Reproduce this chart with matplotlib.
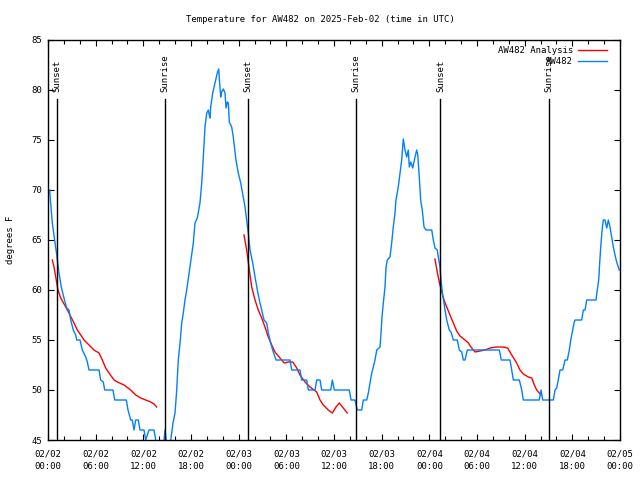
import numpy as np
import matplotlib
matplotlib.use("Agg")
import matplotlib.pyplot as plt

# hours since 2025-02-02 00:00 UTC
obs_hours = [0.0, 0.2, 0.54, 0.97, 1.10, 1.38, 1.67, 2.01, 2.35, 2.64, 2.86, 3.18, 3.49, 3.61,
             4.03, 4.32, 4.75, 4.95, 5.16, 6.42, 6.63, 6.96, 7.14, 8.18, 8.40, 9.86, 10.07,
             10.41, 10.61, 10.83, 11.04, 11.37, 11.58, 12.08, 12.30, 12.71, 13.34, 13.56, 13.85,
             14.48, 14.73, 14.94, 15.36, 15.57, 15.73, 15.99, 16.20, 16.40, 16.62, 16.83, 17.03,
             17.24, 17.46, 17.87, 18.29, 18.50, 18.79, 19.13, 19.35, 19.55, 19.76, 19.98, 20.18,
             20.30, 20.39, 20.48, 20.73, 21.02, 21.31, 21.49, 21.56, 21.74, 21.86, 22.07, 22.28,
             22.41, 22.57, 22.70, 22.82, 23.12, 23.32, 23.66, 23.95, 24.26, 24.58, 24.80, 25.01,
             25.21, 25.43, 25.77, 26.06, 26.35, 26.60, 26.90, 27.19, 27.53, 27.73, 28.03, 28.28,
             28.70, 30.46, 30.68, 31.72, 31.93, 32.56, 32.77, 33.61, 33.82, 34.24, 34.45, 35.59,
             35.79, 36.04, 37.93, 38.14, 38.64, 38.93, 39.49, 39.69, 40.12, 40.32, 40.53, 40.75,
             40.95, 41.16, 41.38, 41.79, 41.92, 42.04, 42.21, 42.42, 42.55, 42.71, 43.05, 43.26,
             43.46, 43.68, 43.80, 44.09, 44.31, 44.52, 44.65, 44.72, 44.94, 45.15, 45.35, 45.48,
             45.66, 45.91, 46.07, 46.20, 46.41, 46.54, 46.70, 46.91, 47.11, 47.33, 47.58, 48.30,
             48.50, 48.71, 49.00, 49.13, 49.34, 49.47, 49.68, 49.85, 49.97, 50.19, 50.51, 50.73,
             51.02, 51.52, 51.77, 52.07, 52.28, 52.49, 52.78, 56.81, 57.06, 58.15, 58.37, 58.57,
             59.33, 59.63, 59.83, 61.84, 62.06, 62.27, 63.61, 63.82, 64.03, 64.23, 64.45, 64.79,
             65.08, 65.37, 65.62, 65.80, 66.05, 66.21, 66.34, 67.18, 67.38, 67.60, 67.81, 68.98,
             69.14, 69.32, 69.48, 69.61, 69.77, 69.90, 70.11, 70.33, 70.53, 70.74, 70.95, 71.16,
             71.37, 71.58, 71.79, 71.91]
obs_temps = [70.0, 70.0, 66.7, 64.3, 63.5, 61.7, 60.3, 59.2, 58.2, 58.0, 57.0, 56.0, 55.5, 55.0,
             55.0, 54.0, 53.3, 52.8, 52.0, 52.0, 51.0, 50.8, 50.0, 50.0, 49.0, 49.0, 48.0,
             47.0, 47.0, 46.0, 47.0, 47.0, 46.0, 46.0, 45.0, 46.0, 46.0, 45.0, 44.0,
             44.0, 46.0, 44.5, 44.5, 45.7, 46.7, 47.7, 50.0, 53.0, 54.7, 56.7, 57.7,
             59.0, 60.0, 62.3, 64.7, 66.7, 67.2, 68.7, 70.7, 73.3, 76.3, 77.7, 78.0,
             77.5, 77.2, 78.3, 79.7, 80.7, 81.7, 82.1, 81.2, 79.3, 79.8, 80.1, 79.7,
             78.2, 78.8, 78.7, 76.8, 76.3, 75.3, 73.0, 71.7, 70.7, 69.3, 68.3, 67.0,
             65.7, 64.0, 62.7, 61.3, 60.0, 59.0, 58.0, 57.0, 56.7, 55.7, 54.7, 54.0,
             53.0, 53.0, 52.0, 52.0, 51.0, 51.0, 50.0, 50.0, 51.0, 51.0, 50.0, 50.0,
             51.0, 50.0, 50.0, 49.0, 49.0, 48.0, 48.0, 49.0, 49.0, 49.7, 50.7, 51.7,
             52.3, 53.0, 54.0, 54.3, 55.7, 57.3, 58.7, 60.3, 62.3, 63.0, 63.3, 64.7,
             66.3, 67.7, 69.0, 70.3, 71.7, 73.0, 74.3, 75.1, 74.0, 73.3, 74.0, 72.3,
             72.8, 72.2, 72.8, 73.3, 74.0, 73.5, 71.7, 69.0, 68.0, 66.3, 66.0, 66.0,
             65.0, 64.2, 64.0, 63.3, 62.3, 61.0, 59.5, 58.7, 58.0, 57.0, 56.0, 55.8,
             55.0, 55.0, 54.0, 53.8, 53.0, 53.0, 54.0, 54.0, 53.0, 53.0, 52.0, 51.0,
             51.0, 50.0, 49.0, 49.0, 50.0, 49.0, 49.0, 50.0, 50.2, 51.0, 52.0, 52.0,
             53.0, 53.0, 54.0, 55.0, 56.0, 56.7, 57.0, 57.0, 58.0, 58.0, 59.0, 59.0,
             60.0, 61.0, 63.2, 64.7, 66.2, 67.0, 67.0, 66.2, 67.0, 66.3, 65.3, 64.3,
             63.5, 62.8, 62.3, 62.0]

# analysis, one run per night
ana1_hours = [0.54, 0.76, 0.97, 1.26, 1.60, 2.23, 2.64, 3.27, 3.69, 4.12, 4.53, 5.16, 5.79, 6.42,
              6.84, 7.26, 7.68, 8.31, 8.72, 9.57, 10.41, 11.04, 11.67, 12.30, 12.93, 13.34, 13.68]
ana1_temps = [63.0, 62.3, 61.3, 60.0, 59.2, 58.3, 57.7, 56.7, 56.0, 55.5, 55.0, 54.5, 54.0, 53.7,
              53.0, 52.2, 51.7, 51.0, 50.8, 50.5, 50.0, 49.5, 49.2, 49.0, 48.8, 48.6, 48.3]
ana2_hours = [24.67, 25.01, 25.34, 25.64, 26.06, 26.47, 26.90, 27.31, 27.73, 28.16, 28.57, 29.20,
              29.74, 30.25, 30.80, 31.31, 31.72, 32.35, 32.98, 33.82, 34.24, 34.65, 35.28, 35.79,
              36.25, 36.67, 37.17, 37.67]
ana2_temps = [65.5, 64.0, 62.0, 60.3, 59.0, 58.0, 57.2, 56.3, 55.3, 54.5, 53.8, 53.2,
              52.7, 52.8, 52.8, 52.2, 51.5, 50.8, 50.3, 49.8, 49.0, 48.5, 48.0, 47.7,
              48.3, 48.7, 48.2, 47.7]
ana3_hours = [48.71, 49.00, 49.25, 49.56, 49.85, 50.19, 50.60, 51.02, 51.44, 51.86, 52.49, 52.91,
              53.33, 53.75, 54.38, 55.01, 55.64, 56.48, 57.31, 57.86, 58.37, 59.00, 59.41, 59.83,
              60.46, 60.89, 61.22, 61.51, 61.84, 62.06]
ana3_temps = [63.1, 61.8, 60.8, 59.8, 59.0, 58.3, 57.5, 56.7, 55.9, 55.4, 55.0, 54.7,
              54.2, 53.8, 53.9, 54.0, 54.2, 54.3, 54.3, 54.2, 53.5, 52.7, 52.0, 51.6,
              51.3, 51.2, 50.5, 50.0, 49.7, 49.5]

sunset_hours = [1.1, 25.2, 49.4]
sunrise_hours = [14.7, 38.8, 63.0]

tick_hours = list(range(0, 73, 6))
tick_labels = ["02/02\n00:00", "02/02\n06:00", "02/02\n12:00", "02/02\n18:00",
               "02/03\n00:00", "02/03\n06:00", "02/03\n12:00", "02/03\n18:00",
               "02/04\n00:00", "02/04\n06:00", "02/04\n12:00", "02/04\n18:00",
               "02/05\n00:00"]

plt.rcParams['font.family'] = 'DejaVu Sans Mono'
plt.rcParams['font.size'] = 6.5

fig = plt.figure(figsize=(6.4, 4.8), dpi=100)
ax = fig.add_axes([48/640, 40/480, 572/640, 400/480])

ax.plot(ana1_hours, ana1_temps, color='#ff0000', lw=1, label='AW482 Analysis')
ax.plot(ana2_hours, ana2_temps, color='#ff0000', lw=1)
ax.plot(ana3_hours, ana3_temps, color='#ff0000', lw=1)
ax.plot(obs_hours, obs_temps, color='#0080ff', lw=1, label='AW482')

for h in sunset_hours:
    ax.plot([h, h], [45, 79.1], color='black', lw=1)
    ax.text(h, 79.8, 'Sunset', rotation=90, ha='center', va='bottom')
for h in sunrise_hours:
    ax.plot([h, h], [45, 79.1], color='black', lw=1)
    ax.text(h, 79.8, 'Sunrise', rotation=90, ha='center', va='bottom')

ax.set_xlim(0, 72)
ax.set_ylim(45, 85)
ax.set_xticks(tick_hours)
ax.set_xticklabels(tick_labels, linespacing=1.45)
ax.set_xticks(range(0, 73, 2), minor=True)
ax.set_yticks(range(45, 86, 5))
ax.tick_params(which='major', direction='in', length=4.5, width=0.8, top=True, right=True, pad=7)
ax.tick_params(which='minor', direction='in', length=3, width=0.8, top=True)
ax.tick_params(axis='y', pad=4)
for s in ax.spines.values():
    s.set_linewidth(1)

ax.set_ylabel('degrees F', labelpad=12)
fig.text(0.5, 1 - 19/480, 'Temperature for AW482 on 2025-Feb-02 (time in UTC)', ha='center', va='center')

leg = ax.legend(loc='upper right', bbox_to_anchor=(1 - 7/572, 1.0), frameon=False,
                markerfirst=False, handlelength=3.2, borderaxespad=0.25,
                labelspacing=0.2, handletextpad=0.6)
for t in leg.get_texts():
    t.set_ha('right')

fig.savefig('out.png', dpi=100)
